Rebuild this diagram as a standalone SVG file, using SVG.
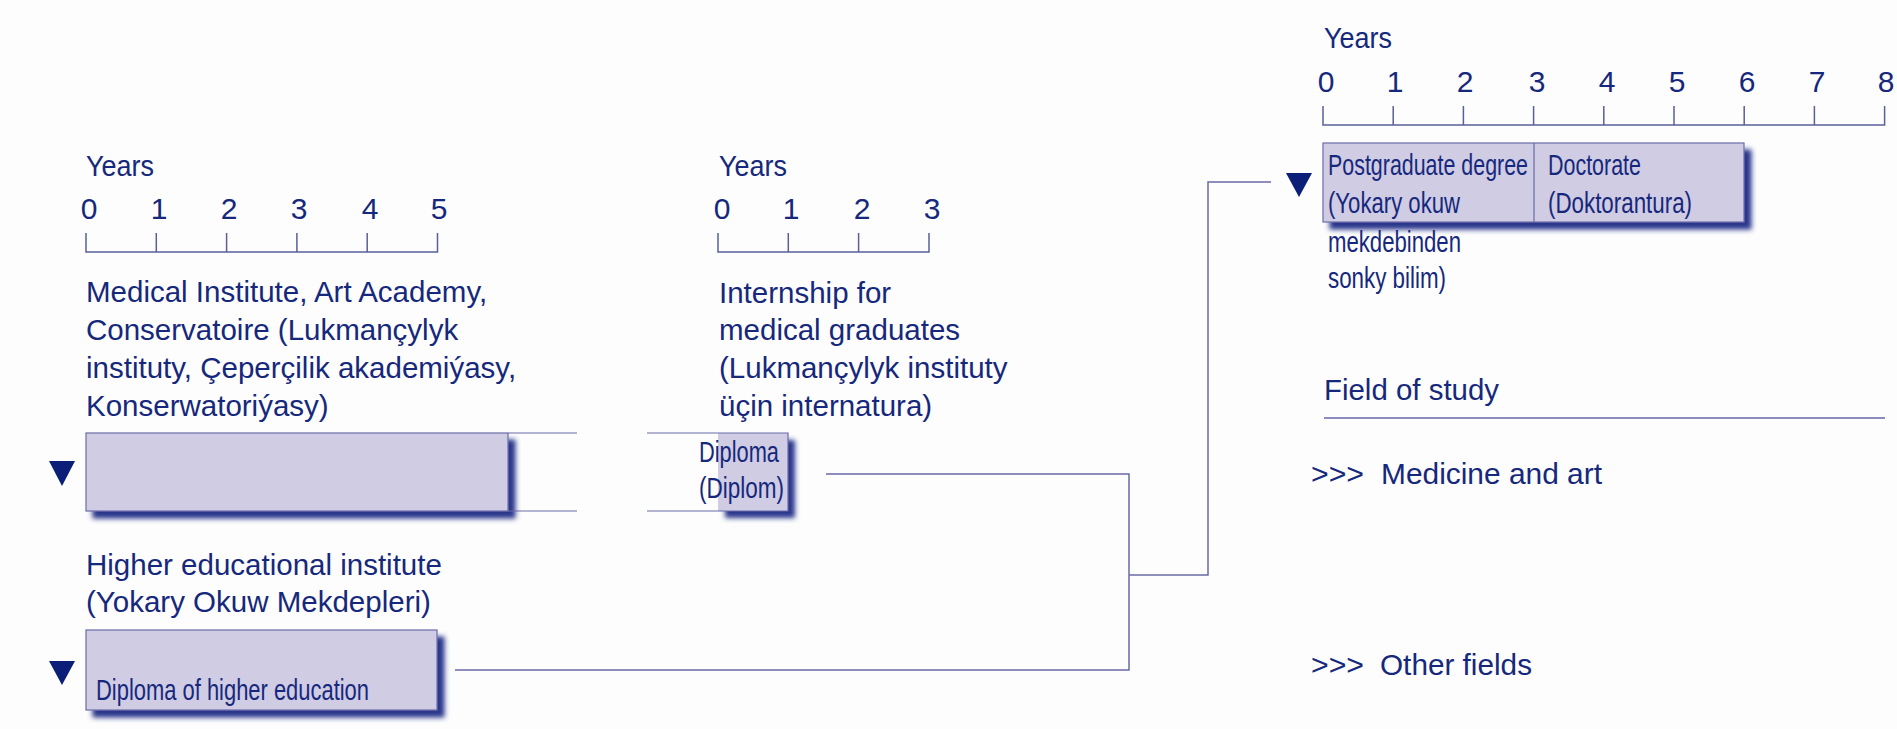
<svg xmlns="http://www.w3.org/2000/svg" width="1897" height="729" viewBox="0 0 1897 729">
<defs>
<filter id="sh" x="-10%" y="-20%" width="130%" height="150%">
<feDropShadow dx="7" dy="7" stdDeviation="2.5" flood-color="#1a2a85" flood-opacity="0.95"/>
</filter>
<style>
text{font-family:"Liberation Sans",Arial,sans-serif;fill:#16287c;font-size:29.5px}
.c{font-size:29px}
.n{text-anchor:middle;font-size:30px}
.ax{fill:none;stroke:#5a5f9a;stroke-width:1.5}
.bx{fill:#cfcce4;stroke:#6b6ba8;stroke-width:1.2}
.ln{fill:none;stroke:#6b6ba8;stroke-width:1.2}
.tri{fill:#0b1e78}
.con{fill:none;stroke:#6a6aa8;stroke-width:1.5}
</style>
</defs>
<rect width="1897" height="729" fill="#fdfdfd"/>

<g id="axis-left">
<text x="86" y="176" textLength="68" lengthAdjust="spacingAndGlyphs">Years</text>
<text class="n" x="89" y="219">0</text>
<text class="n" x="159" y="219">1</text>
<text class="n" x="229" y="219">2</text>
<text class="n" x="299" y="219">3</text>
<text class="n" x="370" y="219">4</text>
<text class="n" x="439" y="219">5</text>
<path class="ax" d="M86,233V252H437.5V233M156.3,233V252M226.6,233V252M296.9,233V252M367.2,233V252"/>
</g>

<g id="axis-middle">
<text x="719" y="176" textLength="68" lengthAdjust="spacingAndGlyphs">Years</text>
<text class="n" x="722" y="219">0</text>
<text class="n" x="791" y="219">1</text>
<text class="n" x="862" y="219">2</text>
<text class="n" x="932" y="219">3</text>
<path class="ax" d="M718,233V252H929V233M788.3,233V252M858.6,233V252"/>
</g>

<g id="axis-right">
<text x="1324" y="48" textLength="68" lengthAdjust="spacingAndGlyphs">Years</text>
<text class="n" x="1326" y="92">0</text>
<text class="n" x="1395" y="92">1</text>
<text class="n" x="1465" y="92">2</text>
<text class="n" x="1537" y="92">3</text>
<text class="n" x="1607" y="92">4</text>
<text class="n" x="1677" y="92">5</text>
<text class="n" x="1747" y="92">6</text>
<text class="n" x="1817" y="92">7</text>
<text class="n" x="1886" y="92">8</text>
<path class="ax" d="M1323,106V125H1884.6V106M1393.2,106V125M1463.4,106V125M1533.6,106V125M1603.8,106V125M1674,106V125M1744.2,106V125M1814.4,106V125"/>
</g>

<g id="node-medical">
<text x="86" y="302">Medical Institute, Art Academy,</text>
<text x="86" y="340">Conservatoire (Lukmançylyk</text>
<text x="86" y="378">instituty, Çeperçilik akademiýasy,</text>
<text x="86" y="416">Konserwatoriýasy)</text>
<polygon class="tri" points="49,461 75,461 62,486"/>
<rect class="bx" x="86" y="433" width="422" height="78" filter="url(#sh)"/>
<path class="ln" d="M508,433H577M508,511H577"/>
</g>

<g id="node-internship">
<text x="719" y="303">Internship for</text>
<text x="719" y="340">medical graduates</text>
<text x="719" y="378">(Lukmançylyk instituty</text>
<text x="719" y="416">üçin internatura)</text>
<path class="ln" d="M647,433H718M647,511H718"/>
<rect x="718" y="433" width="70" height="78" fill="#cfcce4" filter="url(#sh)"/>
<path class="ln" d="M718,433H788V511H718"/>
<text class="c" x="699" y="462" textLength="80" lengthAdjust="spacingAndGlyphs">Diploma</text>
<text class="c" x="699" y="498" textLength="85" lengthAdjust="spacingAndGlyphs">(Diplom)</text>
</g>

<g id="node-higher">
<text x="86" y="575">Higher educational institute</text>
<text x="86" y="612">(Yokary Okuw Mekdepleri)</text>
<polygon class="tri" points="49,661 75,661 62,685"/>
<rect class="bx" x="86" y="630" width="351" height="80" filter="url(#sh)"/>
<text class="c" x="96" y="700" textLength="273" lengthAdjust="spacingAndGlyphs">Diploma of higher education</text>
</g>

<g id="node-postgraduate">
<polygon class="tri" points="1286,173 1312,173 1299,197"/>
<rect class="bx" x="1323" y="143" width="421" height="79" filter="url(#sh)"/>
<path class="ln" d="M1534,143V222"/>
<text class="c" x="1328" y="175" textLength="200" lengthAdjust="spacingAndGlyphs">Postgraduate degree</text>
<text class="c" x="1328" y="213" textLength="132" lengthAdjust="spacingAndGlyphs">(Yokary okuw</text>
<text class="c" x="1328" y="252" textLength="133" lengthAdjust="spacingAndGlyphs">mekdebinden</text>
<text class="c" x="1328" y="288" textLength="118" lengthAdjust="spacingAndGlyphs">sonky bilim)</text>
<text class="c" x="1548" y="175" textLength="93" lengthAdjust="spacingAndGlyphs">Doctorate</text>
<text class="c" x="1548" y="213" textLength="144" lengthAdjust="spacingAndGlyphs">(Doktorantura)</text>
</g>

<g id="legend">
<text x="1324" y="400" textLength="175" lengthAdjust="spacingAndGlyphs">Field of study</text>
<path d="M1324,418H1885" stroke="#8c8cc0" stroke-width="2" fill="none"/>
<text x="1311" y="484" textLength="53" lengthAdjust="spacingAndGlyphs">&gt;&gt;&gt;</text>
<text x="1381" y="484" textLength="221" lengthAdjust="spacingAndGlyphs">Medicine and art</text>
<text x="1311" y="675" textLength="53" lengthAdjust="spacingAndGlyphs">&gt;&gt;&gt;</text>
<text x="1380" y="675" textLength="152" lengthAdjust="spacingAndGlyphs">Other fields</text>
</g>

<g id="connectors">
<path class="con" d="M826,474H1129V670H455"/>
<path class="con" d="M1129,575H1208V182H1271"/>
</g>
</svg>
